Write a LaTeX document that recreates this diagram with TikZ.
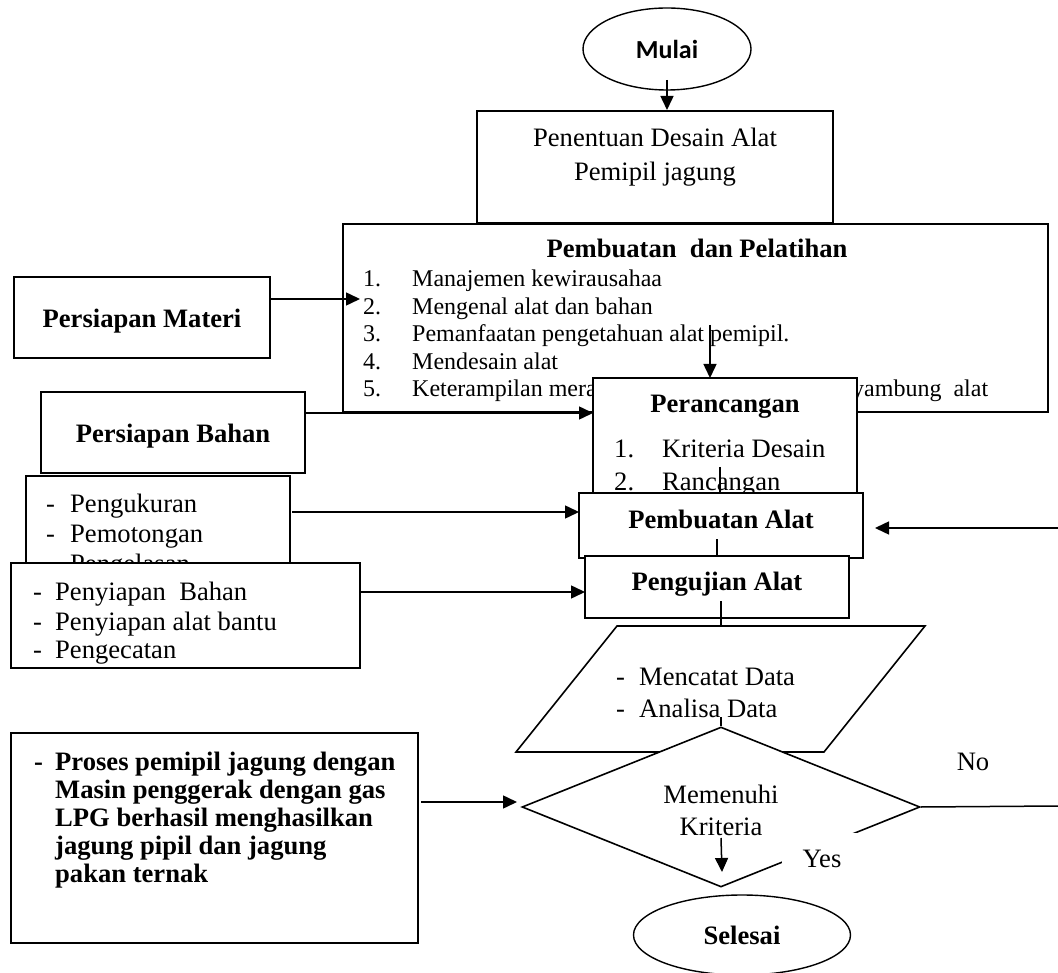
\documentclass[tikz,border=0pt]{standalone}
\usepackage{fontspec}
\setmainfont{Liberation Serif}
\newfontfamily\carlito{Carlito}
\usetikzlibrary{arrows.meta,shapes.geometric}
\begin{document}
\begin{tikzpicture}[x=1pt,y=-1pt,
  box/.style={draw, fill=white, line width=1.6pt, inner sep=0pt},
  conn/.style={line width=1.5pt},
  arr/.style={conn, -{Triangle[length=14pt,width=13pt]}},
  tb/.style={inner sep=0pt, font=\fontsize{26.6}{30}\selectfont},
  tbb/.style={inner sep=0pt, font=\fontsize{26.6}{30}\selectfont\bfseries},
  ts/.style={inner sep=0pt, font=\fontsize{24}{27}\selectfont},
]
\fill[white] (0,0) rectangle (1058,973);
\useasboundingbox (0,0) rectangle (1058,973);

% Penentuan
\node[box, minimum width=356pt, minimum height=112pt] (penentuan) at (655,167) {};
\node[tb, anchor=base] (pen1) at (655,147) {Penentuan Desain Alat};
\node[tb, anchor=base] (pen2) at (655,181) {Pemipil jagung};

% Pembuatan dan Pelatihan
\node[box, minimum width=705pt, minimum height=188pt] (pembuatan) at (695.5,318) {};
\node[tbb, anchor=base] (pbtitle) at (697,258) {Pembuatan\ \ dan Pelatihan};
\node[ts, anchor=base west] (l1) at (363,287) {\makebox[49pt][l]{1.}Manajemen kewirausahaa};
\node[ts, anchor=base west] (l2) at (363,314.5) {\makebox[49pt][l]{2.}Mengenal alat dan bahan};
\node[ts, anchor=base west] (l3) at (363,342) {\makebox[49pt][l]{3.}Pemanfaatan pengetahuan alat pemipil.};
\node[ts, anchor=base west] (l4) at (363,369.5) {\makebox[49pt][l]{4.}Mendesain alat};
\node[ts, anchor=base west] (l5) at (363,397) {\makebox[49pt][l]{5.}Keterampilan mera};
\node[ts, anchor=base west] (l5b) at (852,397) {yambung\ \ alat};

% Persiapan Materi
\node[box, minimum width=256pt, minimum height=81pt] (materi) at (142,317.5) {};
\node[tbb, anchor=base] (materit) at (142,328) {Persiapan Materi};

% Persiapan Bahan
\node[box, minimum width=264pt, minimum height=81pt] (bahan) at (173,432.5) {};
\node[tbb, anchor=base] (bahant) at (173,443) {Persiapan Bahan};

% Pengukuran list
\node[box, minimum width=264pt, minimum height=104pt] (ukur) at (158,528) {};
\node[tb, anchor=base west] (u1) at (46,512) {\makebox[24pt][l]{-}Pengukuran};
\node[tb, anchor=base west] (u2) at (46,542) {\makebox[24pt][l]{-}Pemotongan};
\node[tb, anchor=base west] (u3) at (46,572) {\makebox[24pt][l]{-}Pengelasan};

% Penyiapan list
\node[box, minimum width=349pt, minimum height=105pt] (siap) at (185.5,615.5) {};
\begin{scope}
\clip (12,564) rectangle (359,667);
\node[tb, anchor=base west] (s1) at (33,600) {\makebox[22pt][l]{-}Penyiapan\ \ Bahan};
\node[tb, anchor=base west] (s2) at (33,630) {\makebox[22pt][l]{-}Penyiapan alat bantu};
\node[tb, anchor=base west] (s3) at (33,658) {\makebox[22pt][l]{-}Pengecatan};
\end{scope}

% Perancangan
\node[box, minimum width=264pt, minimum height=122pt] (rancang) at (725,439) {};
\node[tbb, anchor=base] (rancangt) at (725,413) {Perancangan};
\node[tb, anchor=base west] (r1) at (614,458) {\makebox[48pt][l]{1.}Kriteria Desain};
\node[tb, anchor=base west] (r2) at (614,490) {\makebox[48pt][l]{2.}Rancangan};

% Pembuatan Alat
\node[box, minimum width=284pt, minimum height=65pt] (palat) at (721,525.5) {};
\node[tbb, anchor=base] (palatt) at (721,529) {Pembuatan Alat};

% Pengujian Alat
\node[box, minimum width=264pt, minimum height=62pt] (uji) at (717,587) {};
\node[tbb, anchor=base] (ujit) at (717,590) {Pengujian Alat};

% Parallelogram
\coordinate (p1) at (617,626);
\coordinate (p2) at (925,626);
\coordinate (p3) at (824,752);
\coordinate (p4) at (516,752);
\filldraw[fill=white, line width=1.6pt, line join=miter] (p1) -- (p2) -- (p3) -- (p4) -- cycle;
\node[tb, anchor=base west] (d1) at (616,685) {\makebox[23pt][l]{-}Mencatat Data};
\node[tb, anchor=base west] (d2) at (616,717) {\makebox[23pt][l]{-}Analisa Data};

% Diamond
\node[diamond, draw, fill=white, line width=1.6pt, inner sep=0pt, minimum width=398pt, minimum height=160pt] (dec) at (721,807) {};
\node[tb, anchor=base] (dec1) at (721,803) {Memenuhi};
\node[tb, anchor=base] (dec2) at (721,835) {Kriteria};

% Yes / No
\node[fill=white, inner sep=0pt, minimum width=80pt, minimum height=31pt] (yesbg) at (822,848) {};
\node[tb, anchor=base] (yes) at (822,867) {Yes};
\node[tb, anchor=base] (no) at (973,770) {No};

% Proses box
\node[box, minimum width=407pt, minimum height=210pt] (proses) at (214.5,838) {};
\node[tbb, anchor=base west] (pr1) at (34,770) {\makebox[21pt][l]{-}Proses pemipil jagung dengan};
\node[tbb, anchor=base west] (pr2) at (55,798) {Masin penggerak dengan gas};
\node[tbb, anchor=base west] (pr3) at (55,826) {LPG berhasil menghasilkan};
\node[tbb, anchor=base west] (pr4) at (55,854) {jagung pipil dan jagung};
\node[tbb, anchor=base west] (pr5) at (55,882) {pakan ternak};

% Terminals
\node[ellipse, draw, fill=white, line width=1.4pt, inner sep=0pt, minimum width=168pt, minimum height=82pt, font=\carlito\bfseries\fontsize{26}{30}\selectfont] (mulai) at (667,49) {Mulai};
\node[ellipse, draw, fill=white, line width=1.4pt, inner sep=0pt, minimum width=217pt, minimum height=80pt, font=\bfseries\fontsize{26.6}{30}\selectfont] (selesai) at (742,935) {Selesai};

% Connector points
\coordinate (c1) at (667,80);
\coordinate (c1e) at (667,110);
\coordinate (c2) at (270,299);
\coordinate (c2e) at (360,299);
\coordinate (c3) at (710,325);
\coordinate (c3e) at (710,378);
\coordinate (c4) at (305,413);
\coordinate (c4e) at (593,413);
\coordinate (c5) at (292,512);
\coordinate (c5e) at (579,512);
\coordinate (c6) at (360,592);
\coordinate (c6e) at (585,592);
\coordinate (c7) at (720,467);
\coordinate (c7e) at (720,493);
\coordinate (c8) at (717,539);
\coordinate (c8e) at (717,556);
\coordinate (c9) at (721,601);
\coordinate (c9e) at (721,626);
\coordinate (c10) at (721,717);
\coordinate (c11) at (421,802);
\coordinate (c11e) at (517,802);
\coordinate (c12e) at (1058,806);
\coordinate (c13) at (1058,528);
\coordinate (c13e) at (875,528);
\coordinate (c14) at (721,838);
\coordinate (c14e) at (722,872);

\draw[arr] (c1) -- (c1e);
\draw[arr] (c2) -- (c2e);
\draw[arr] (c3) -- (c3e);
\draw[arr] (c4) -- (c4e);
\draw[arr] (c5) -- (c5e);
\draw[arr] (c6) -- (c6e);
\draw[conn] (c7) -- (c7e);
\draw[conn] (c8) -- (c8e);
\draw[conn] (c9) -- (c9e);
\draw[conn] (c10) -- (dec.north);
\draw[arr] (c11) -- (c11e);
\draw[conn] (dec.east) -- (c12e);
\draw[arr] (c13) -- (c13e);
\draw[arr] (c14) -- (c14e);
\end{tikzpicture}
\end{document}
